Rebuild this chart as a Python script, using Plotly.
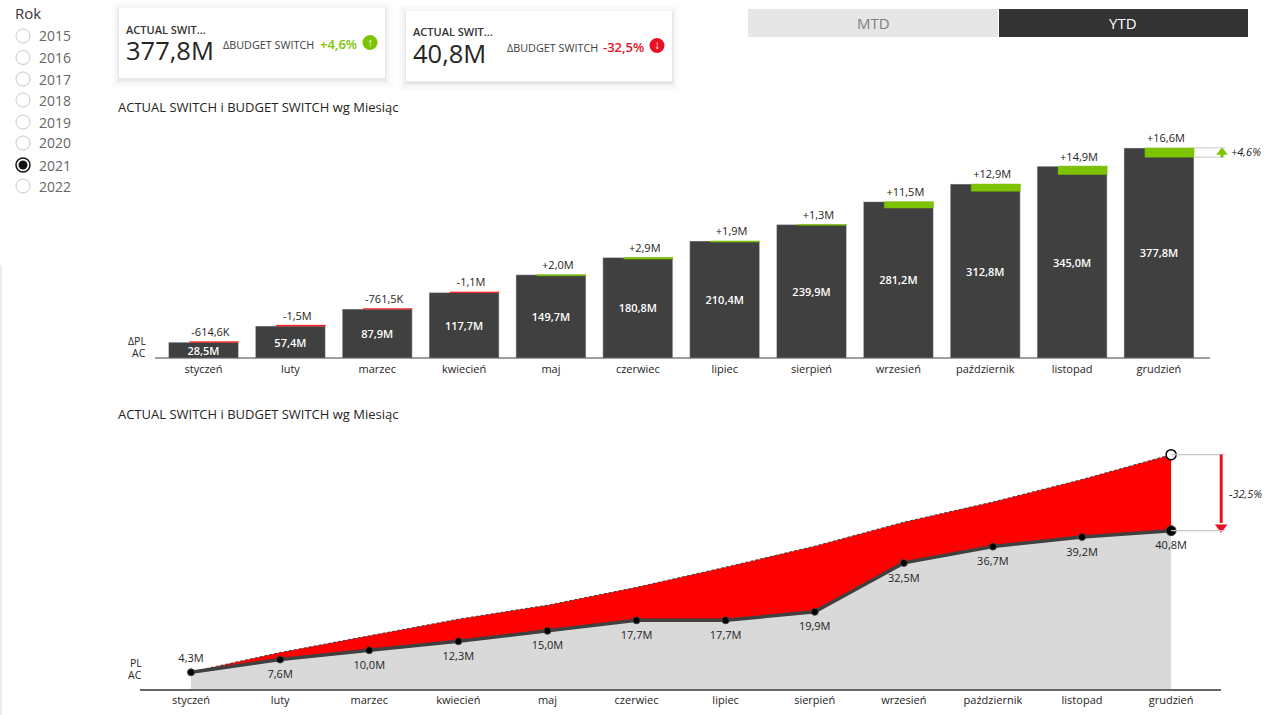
import plotly.graph_objects as go

months = ["styczeń", "luty", "marzec", "kwiecień", "maj", "czerwiec", "lipiec",
          "sierpień", "wrzesień", "październik", "listopad", "grudzień"]
years = ["2015", "2016", "2017", "2018", "2019", "2020", "2021", "2022"]

# top chart, cumulative actual and difference to plan (M)
ac_ytd = [28.5, 57.4, 87.9, 117.7, 149.7, 180.8, 210.4, 239.9, 281.2, 312.8, 345.0, 377.8]
delta_ytd = [-0.6146, -1.5, -0.7615, -1.1, 2.0, 2.9, 1.9, 1.3, 11.5, 12.9, 14.9, 16.6]
delta_labels = ["-614,6K", "-1,5M", "-761,5K", "-1,1M", "+2,0M", "+2,9M",
                "+1,9M", "+1,3M", "+11,5M", "+12,9M", "+14,9M", "+16,6M"]

# bottom chart, actual and plan (M)
ac_mtd = [4.3, 7.6, 10.0, 12.3, 15.0, 17.7, 17.7, 19.9, 32.5, 36.7, 39.2, 40.8]
pl_mtd = [4.4, 9.4, 13.7, 18.0, 21.6, 26.2, 31.4, 36.8, 43.0, 48.2, 54.0, 60.4]

W, H = 1271, 715
FONT = "Open Sans"
TEXT = "#252423"
DARK = "#404040"
GREEN = "#7dc400"
RED = "#ff0000"
ARROW_RED = "#e81123"


def fmt(v):
    return f"{v:.1f}M".replace(".", ",")


def px(x):
    return x / W


def py(y):
    return 1 - y / H


idx = list(range(len(months)))
pl_ytd = [a - d for a, d in zip(ac_ytd, delta_ytd)]
tops = [max(a, p) for a, p in zip(ac_ytd, pl_ytd)]
bases = [min(a, p) for a, p in zip(ac_ytd, pl_ytd)]
delta_colors = [GREEN if d > 0 else RED for d in delta_ytd]

fig = go.Figure()

# --- bars ---
fig.add_trace(go.Bar(
    x=idx, y=ac_ytd, width=0.806, marker_color=DARK,
    text=[fmt(v) for v in ac_ytd], textposition="inside", insidetextanchor="middle",
    textangle=0, constraintext="none",
    textfont=dict(color="white", size=11, family=FONT, weight=600),
    xaxis="x", yaxis="y",
))
fig.add_trace(go.Bar(
    x=idx, y=[t - b for t, b in zip(tops, bases)], base=bases, width=0.564, offset=-0.161,
    marker=dict(color=delta_colors, line=dict(color=delta_colors, width=0.5)),
    xaxis="x", yaxis="y",
))
# transparent markers only push the labels away from the bars
fig.add_trace(go.Scatter(
    x=[i + 0.08 for i in idx], y=tops, mode="markers+text", text=delta_labels,
    marker=dict(size=3, opacity=0),
    textposition="top center", textfont=dict(size=11, color=TEXT, family=FONT),
    xaxis="x", yaxis="y",
))
fig.add_trace(go.Scatter(
    x=[11.726], y=[pl_ytd[-1] + 9], mode="markers",
    marker=dict(symbol="triangle-up", size=10, color=GREEN, opacity=1),
    xaxis="x", yaxis="y",
))

# --- area ---
fig.add_trace(go.Scatter(
    x=idx, y=ac_mtd, mode="none", fill="tozeroy", fillcolor="#d9d9d9",
    xaxis="x2", yaxis="y2",
))
fig.add_trace(go.Scatter(
    x=idx, y=pl_mtd, mode="lines", fill="tonexty", fillcolor=RED,
    line=dict(color=DARK, width=1, dash="3px,2px"),
    xaxis="x2", yaxis="y2",
))
fig.add_trace(go.Scatter(
    x=idx, y=ac_mtd, mode="lines+markers",
    line=dict(color=DARK, width=3.5),
    marker=dict(color="black", size=[7] * 11 + [10], opacity=1),
    xaxis="x2", yaxis="y2",
))
fig.add_trace(go.Scatter(
    x=idx, y=ac_mtd, mode="markers+text", text=[fmt(v) for v in ac_mtd],
    marker=dict(size=[11] + [15] * 11, opacity=0),
    textposition=["top center"] + ["bottom center"] * 11,
    textfont=dict(size=11, color=TEXT, family=FONT),
    xaxis="x2", yaxis="y2",
))
fig.add_trace(go.Scatter(
    x=[11], y=pl_mtd[-1:], mode="markers",
    marker=dict(color="white", size=10, opacity=1, line=dict(color="black", width=1.5)),
    xaxis="x2", yaxis="y2",
))
fig.add_trace(go.Scatter(
    x=[11.562], y=[ac_mtd[-1] + 0.9], mode="markers",
    marker=dict(symbol="triangle-down", size=11, color=ARROW_RED, opacity=1),
    xaxis="x2", yaxis="y2",
))

shapes = []
annotations = []


def label(x, y, s, size=11, color=TEXT, anchor="left", **kw):
    annotations.append(dict(
        x=px(x - 1 if anchor == "left" else x), y=py(y), xref="paper", yref="paper",
        text=s, showarrow=False, xanchor=anchor, yanchor="middle", borderpad=0,
        font=dict(size=size, color=color, family=FONT, **kw),
    ))


def rect(x0, y0, x1, y1, fill, line=None):
    shapes.append(dict(type="rect", xref="paper", yref="paper", x0=px(x0), x1=px(x1),
                       y0=py(y0), y1=py(y1), fillcolor=fill, layer="below",
                       line=dict(width=0 if line is None else 1, color=line or fill)))


def circle(cx, cy, r, fill, line=None, width=1):
    shapes.append(dict(type="circle", xref="paper", yref="paper", x0=px(cx - r), x1=px(cx + r),
                       y0=py(cy - r), y1=py(cy + r), fillcolor=fill, layer="above",
                       line=dict(width=width if line else 0, color=line or fill)))


def hline(x0, x1, y, color, width=1):
    shapes.append(dict(type="line", xref="paper", yref="paper", x0=px(x0), x1=px(x1),
                       y0=py(y), y1=py(y), line=dict(color=color, width=width)))


# slicer
label(15, 13, "Rok", size=15, color="#333333", weight=500)
year_rows = [36, 57.5, 79, 100, 122, 143, 165, 186]
for yr, row in zip(years, year_rows):
    label(39, row, yr, size=14, color="#666666")
    if yr == "2021":
        circle(23, row, 7, "white", "#111111", 1.5)
        circle(23, row, 4.5, "#111111")
    else:
        circle(23, row, 7, "white", "#c8c8c8", 1)

# left page edge
shapes.append(dict(type="line", xref="paper", yref="paper", x0=px(1), x1=px(1),
                   y0=py(265), y1=0, line=dict(color="#d5d9e8", width=1)))


def card(x, y, value, pct, color, arrow, delta_right):
    for grow, alpha in [(8, 0.008), (6, 0.012), (4, 0.018), (2, 0.025), (1, 0.03)]:
        rect(x - grow, y - grow + 2, x + 266 + grow, y + 70 + grow + 2, f"rgba(0,0,0,{alpha})")
    rect(x, y, x + 266, y + 70, "white")
    label(x + 7, y + 21, "ACTUAL SWIT...", size=11, weight=600, color="#333333")
    label(x + 7, y + 42.5, value, size=25.5, color="#252423")
    label(x + delta_right, y + 36, "ΔBUDGET SWITCH", size=10.8, color="#404040", anchor="right")
    label(x + 239, y + 35.5, pct, size=13, color=color, anchor="right", weight=600)
    circle(x + 251, y + 34.5, 7.5, color)
    label(x + 251, y + 34, arrow, size=12, color="white", anchor="center", weight=700)


card(119, 8, "377,8M", "+4,6%", GREEN, "↑", 195.5)
card(406, 11, "40,8M", "-32,5%", ARROW_RED, "↓", 192.5)

# MTD / YTD buttons
rect(748, 9, 998, 37, "#e6e6e6")
rect(999, 9, 1248, 37, "#333333")
label(873, 23.5, "MTD", size=15, color="#7f7f7f", anchor="center")
label(1123, 23.5, "YTD", size=15, color="white", anchor="center")

# chart titles
label(117.5, 107, "ACTUAL SWITCH i BUDGET SWITCH wg Miesiąc", size=13)
label(117.5, 414, "ACTUAL SWITCH i BUDGET SWITCH wg Miesiąc", size=13)

# row captions
label(147, 340.5, "ΔPL", anchor="right", size=10.5)
label(147, 352.5, "AC", anchor="right", size=10.5)
label(143, 662.5, "PL", anchor="right", size=10.5)
label(143, 675, "AC", anchor="right", size=10.5)

# base lines
hline(155, 1210, 358, DARK, 1.2)
hline(140, 1221, 690, "#666666", 2)

# variance brackets, top chart
for v in [ac_ytd[-1], pl_ytd[-1]]:
    shapes.append(dict(type="line", xref="x", yref="y", x0=11.403, x1=11.76, y0=v, y1=v,
                       line=dict(color="#c8c8c8", width=1)))
shapes.append(dict(type="line", xref="x", yref="y", x0=11.726, x1=11.726,
                   y0=pl_ytd[-1], y1=pl_ytd[-1] + 7, line=dict(color=GREEN, width=3)))
annotations.append(dict(x=px(1229), y=py(152), xref="paper", yref="paper", text="<i>+4,6%</i>",
                        showarrow=False, xanchor="left", yanchor="middle",
                        font=dict(size=11, color=TEXT, family=FONT)))

# variance brackets, bottom chart
for v in [ac_mtd[-1], pl_mtd[-1]]:
    shapes.append(dict(type="line", xref="x2", yref="y2", x0=11, x1=11.6, y0=v, y1=v,
                       line=dict(color="#c8c8c8", width=1.2)))
shapes.append(dict(type="line", xref="x2", yref="y2", x0=11.562, x1=11.562,
                   y0=pl_mtd[-1], y1=ac_mtd[-1] + 2, line=dict(color=ARROW_RED, width=3)))
annotations.append(dict(x=px(1227), y=py(493), xref="paper", yref="paper", text="<i>-32,5%</i>",
                        showarrow=False, xanchor="left", yanchor="middle",
                        font=dict(size=11, color=TEXT, family=FONT)))

axis_common = dict(showgrid=False, zeroline=False, showline=False, ticks="", fixedrange=True)
tickfont = dict(size=11, color=TEXT, family=FONT)

fig.update_layout(
    width=W, height=H, margin=dict(l=0, r=0, t=0, b=0), autosize=False,
    paper_bgcolor="white", plot_bgcolor="rgba(0,0,0,0)",
    showlegend=False, barmode="overlay", font=dict(family=FONT, color=TEXT),
    shapes=shapes, annotations=annotations,
    xaxis=dict(domain=[0, 1], range=[-2.343, 12.29], tickmode="array", tickvals=idx,
               ticktext=months, tickfont=tickfont, anchor="y", ticklabelstandoff=3, **axis_common),
    yaxis=dict(domain=[py(358), py(120)], range=[0, 428], showticklabels=False, anchor="x", **axis_common),
    xaxis2=dict(domain=[0, 1], range=[-2.144, 12.121], tickmode="array", tickvals=idx,
                ticktext=months, tickfont=tickfont, anchor="y2", ticklabelstandoff=2, **axis_common),
    yaxis2=dict(domain=[py(690), py(430)], range=[-0.26, 66.75], showticklabels=False, anchor="x2", **axis_common),
)

fig.write_html("out.html", config=dict(displayModeBar=False),
               post_script="document.body.style.margin='0';document.body.style.overflow='hidden';")
